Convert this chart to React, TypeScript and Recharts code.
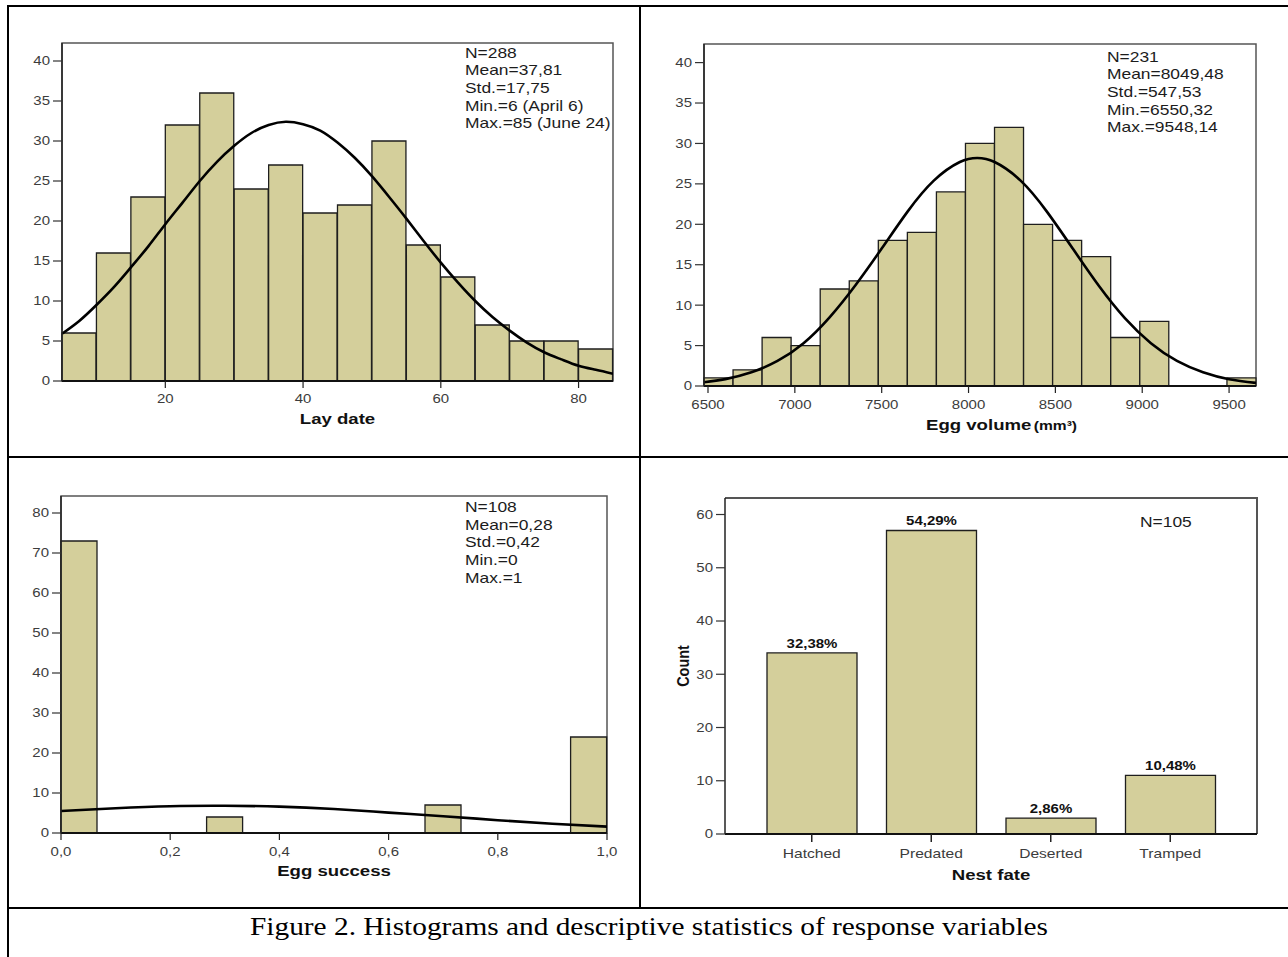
import React from "react";
import { Bar, BarChart, ComposedChart, LabelList, Line, ReferenceArea, XAxis, YAxis } from "recharts";

const FONT = '"Liberation Sans", Arial, sans-serif';
const BAR_FILL = "#d4cf9b";
const BAR_STROKE = "#1e1e1e";
const FRAME = "#555";
const SX = 1.2; // the scanned figure is stretched sideways, so is its text

// Lay date (bins of 5 days, 5..85)
const layBins = [5, 10, 15, 20, 25, 30, 35, 40, 45, 50, 55, 60, 65, 70, 75, 80];
const layCounts = [6, 16, 23, 32, 36, 24, 27, 21, 22, 30, 17, 13, 7, 5, 5, 4];
const layCurveX = [5, 7.5, 10, 12.5, 15, 17.5, 20, 22.5, 25, 27.5, 30, 32.5, 35, 37.5, 40, 42.5, 45, 47.5, 50, 52.5, 55, 57.5, 60, 62.5, 65, 67.5, 70, 72.5, 75, 77.5, 80, 82.5, 85];
const layCurveY = [5.9, 7.5, 9.5, 11.7, 14.2, 16.8, 19.6, 22.3, 25.0, 27.4, 29.4, 31.0, 32.0, 32.4, 32.1, 31.3, 29.8, 27.9, 25.6, 23.0, 20.3, 17.5, 14.8, 12.3, 10.0, 8.0, 6.3, 4.8, 3.6, 2.7, 1.9, 1.4, 0.9];
const layTicks = [20, 40, 60, 80];
const layStats = ["N=288", "Mean=37,81", "Std.=17,75", "Min.=6 (April 6)", "Max.=85 (June 24)"];

// Egg volume (mm3)
const volBins = [6477, 6644, 6812, 6979, 7146, 7314, 7481, 7648, 7815, 7983, 8150, 8317, 8485, 8652, 8819, 8987, 9154, 9321, 9488];
const volCounts = [1, 2, 6, 5, 12, 13, 18, 19, 24, 30, 32, 20, 18, 16, 6, 8, 0, 0, 1];
const volCurveX = [6477, 6600, 6750, 6900, 7050, 7200, 7350, 7500, 7650, 7800, 7950, 8050, 8150, 8300, 8450, 8600, 8750, 8900, 9050, 9200, 9350, 9500, 9655];
const volCurveY = [0.46, 0.85, 1.7, 3.1, 5.3, 8.5, 12.5, 17.0, 21.6, 25.4, 27.7, 28.2, 27.7, 25.4, 21.6, 17.0, 12.4, 8.4, 5.3, 3.1, 1.7, 0.84, 0.38];
const volTicks = [6500, 7000, 7500, 8000, 8500, 9000, 9500];
const volStats = ["N=231", "Mean=8049,48", "Std.=547,53", "Min.=6550,32", "Max.=9548,14"];

// Egg success (15 bins over 0..1)
const sucBins = ["0,00", "0,07", "0,13", "0,20", "0,27", "0,33", "0,40", "0,47", "0,53", "0,60", "0,67", "0,73", "0,80", "0,87", "0,93"];
const sucCounts = [73, 0, 0, 0, 4, 0, 0, 0, 0, 0, 7, 0, 0, 0, 24];
const sucCurveX = [0, 0.1, 0.2, 0.3, 0.4, 0.5, 0.6, 0.7, 0.8, 0.9, 1.0];
const sucCurveY = [5.5, 6.2, 6.7, 6.8, 6.6, 6.0, 5.1, 4.2, 3.2, 2.3, 1.6];
const sucTicks = [0, 0.2, 0.4, 0.6, 0.8, 1.0];
const sucStats = ["N=108", "Mean=0,28", "Std.=0,42", "Min.=0", "Max.=1"];

// Nest fate
const fates = ["Hatched", "Predated", "Deserted", "Tramped"];
const fateCounts = [34, 57, 3, 11];
const fatePcts = ["32,38%", "54,29%", "2,86%", "10,48%"];
const fateTicks = [0, 10, 20, 30, 40, 50, 60];

// text stretched sideways about its anchor point
function SText({ x, y, anchor = "start", size, bold, fill = "#222", dy, children }: {
  x: number; y: number; anchor?: "start" | "middle" | "end"; size: number; bold?: boolean; fill?: string; dy?: string; children: React.ReactNode;
}) {
  return (
    <g transform={`translate(${x},${y}) scale(${SX},1)`}>
      <text x={0} y={0} dy={dy} textAnchor={anchor} fontFamily={FONT} fontSize={size} fontWeight={bold ? "bold" : "normal"} fill={fill}>{children}</text>
    </g>
  );
}

const xTick = (fmt?: (v: any) => string, size = 12.5) => (props: any) => (
  <SText x={props.x} y={props.y} anchor="middle" dy="0.71em" size={size} fill="#3c3c3c">
    {fmt ? fmt(props.payload.value) : props.payload.value}
  </SText>
);
const yTick = (props: any) => (
  <SText x={props.x} y={props.y} anchor="end" dy="0.355em" size={12.5} fill="#3c3c3c">{props.payload.value}</SText>
);
const axisTitle = (text: React.ReactNode, dyBase: number) => ({
  content: (props: any) => {
    const vb = props.viewBox || {};
    return <SText x={vb.x + vb.width / 2} y={vb.y + dyBase} anchor="middle" size={15.5} bold fill="#111">{text}</SText>;
  },
});

function Stats({ x, y, lines }: { x: number; y: number; lines: string[] }) {
  return (
    <div style={{ position: "absolute", left: x, top: y, fontFamily: FONT, fontSize: 14.5, lineHeight: "17.7px", color: "#1c1c1c",
      whiteSpace: "nowrap", transform: `scaleX(${SX})`, transformOrigin: "0 0" }}>
      {lines.map((l) => <div key={l}>{l}</div>)}
    </div>
  );
}

type HistProps = {
  left: number; top: number; width: number; height: number;
  margin: { top: number; right: number; bottom: number; left: number };
  bins: (number | string)[]; counts: number[]; curveX: number[]; curveY: number[];
  domain: [number, number]; ticks: number[]; yMax: number; yStep: number; tickMargin: number;
  title: any; fmt?: (v: number) => string;
};

function Histogram(p: HistProps) {
  const data = p.bins.map((b, i) => ({ bin: String(b), count: p.counts[i] }));
  const curve = p.curveX.map((x, i) => ({ x, y: p.curveY[i] }));
  const yTicks: number[] = [];
  for (let v = 0; v <= p.yMax; v += p.yStep) yTicks.push(v);
  return (
    <div style={{ position: "absolute", left: p.left, top: p.top }}>
      <ComposedChart width={p.width} height={p.height} data={data} margin={p.margin} barCategoryGap={0} barGap={0}>
        <XAxis xAxisId="bins" dataKey="bin" hide height={0} />
        <XAxis xAxisId="val" type="number" dataKey="x" domain={p.domain} ticks={p.ticks} allowDataOverflow interval={0}
          height={50} tickSize={7} tickMargin={p.tickMargin}
          axisLine={{ stroke: "#111", strokeWidth: 2 }} tickLine={{ stroke: "#222", strokeWidth: 1.2 }} tick={xTick(p.fmt)}
          label={p.title} />
        <YAxis domain={[0, p.yMax]} ticks={yTicks} allowDataOverflow interval={0} width={40}
          tickSize={9} tickMargin={3} axisLine={{ stroke: "#222", strokeWidth: 1.5 }} tickLine={{ stroke: "#333", strokeWidth: 1.2 }} tick={yTick} />
        <Bar xAxisId="bins" dataKey="count" fill={BAR_FILL} stroke={BAR_STROKE} strokeWidth={1.3} isAnimationActive={false} />
        <Line xAxisId="val" data={curve} dataKey="y" type="natural" stroke="#000" strokeWidth={2.6} dot={false} isAnimationActive={false} />
        <ReferenceArea xAxisId="val" y1={0} y2={p.yMax} fill="none" stroke={FRAME} strokeWidth={1.5} ifOverflow="visible" />
      </ComposedChart>
    </div>
  );
}

// nest-fate chart box, kept in one place so the frame follows the margins
const NEST = { left: 641, top: 458, width: 647, height: 449, yWidth: 60, xHeight: 50 };
const NEST_MARGIN = { top: 40, right: 31, bottom: 23, left: 24 };

export default function App() {
  const line = (l: number, t: number, w: number, h: number, c = "#000") => (
    <div style={{ position: "absolute", left: l, top: t, width: w, height: h, background: c }} />
  );
  const volTitle = {
    content: (props: any) => {
      const vb = props.viewBox || {};
      const x0 = vb.x + vb.width / 2 - 54;
      return (
        <g transform={`translate(${x0},${vb.y + 43.8}) scale(${SX},1)`}>
          <text x={0} y={0} fontFamily={FONT} fill="#111" fontWeight="bold">
            <tspan fontSize={15.5}>Egg volume</tspan>
            <tspan fontSize={13} dx={2}>(mm³)</tspan>
          </text>
        </g>
      );
    },
  };
  const countTitle = {
    content: (props: any) => {
      const vb = props.viewBox || {};
      const cx = vb.x + 18;
      const cy = vb.y + vb.height / 2;
      return (
        <g transform={`translate(${cx},${cy}) scale(${SX},1) rotate(-90)`}>
          <text x={0} y={0} dy="0.36em" textAnchor="middle" fontFamily={FONT} fontSize={14.4} fontWeight="bold" fill="#111">Count</text>
        </g>
      );
    },
  };
  const pctLabel = (props: any) => (
    <SText x={props.x + props.width / 2} y={props.y - 5} anchor="middle" size={12.5} bold fill="#111">{props.value}</SText>
  );
  const nestData = fates.map((f, i) => ({ fate: f, count: fateCounts[i], pct: fatePcts[i] }));
  const pl = NEST.left + NEST_MARGIN.left + NEST.yWidth;
  const pr = NEST.left + NEST.width - NEST_MARGIN.right;
  const pt = NEST.top + NEST_MARGIN.top;
  const pb = NEST.top + NEST.height - NEST_MARGIN.bottom - NEST.xHeight;

  return (
    <div style={{ position: "absolute", left: 0, top: 0, width: 1288, height: 957, background: "#fff", overflow: "hidden" }}>
      <Histogram left={9} top={7} width={630} height={449} margin={{ top: 36, right: 26, bottom: 25, left: 13 }}
        bins={layBins} counts={layCounts} curveX={layCurveX} curveY={layCurveY} domain={[5, 85]} ticks={layTicks}
        yMax={42.25} yStep={5} tickMargin={6} title={axisTitle("Lay date", 42.6)} />
      <Histogram left={641} top={7} width={647} height={449} margin={{ top: 37, right: 32, bottom: 20, left: 23 }}
        bins={volBins} counts={volCounts} curveX={volCurveX} curveY={volCurveY} domain={[6477, 9655]} ticks={volTicks}
        yMax={42.3} yStep={5} tickMargin={7} title={volTitle} />
      <Histogram left={9} top={458} width={630} height={449} margin={{ top: 38, right: 32, bottom: 24, left: 12 }}
        bins={sucBins} counts={sucCounts} curveX={sucCurveX} curveY={sucCurveY} domain={[0, 1]} ticks={sucTicks}
        yMax={84.25} yStep={10} tickMargin={7} title={axisTitle("Egg success", 42.5)}
        fmt={(v) => v.toFixed(1).replace(".", ",")} />

      {/* top and right edges of the nest-fate plot frame */}
      {line(pl, pt - 0.75, pr - pl + 0.75, 1.5, FRAME)}
      {line(pr - 0.75, pt - 0.75, 1.5, pb - pt + 0.75, FRAME)}

      <div style={{ position: "absolute", left: NEST.left, top: NEST.top }}>
        <BarChart width={NEST.width} height={NEST.height} data={nestData} margin={NEST_MARGIN} barCategoryGap={0}>
          <XAxis dataKey="fate" padding={{ left: 27, right: 27 }} interval={0} height={NEST.xHeight} tickSize={8} tickMargin={7}
            axisLine={{ stroke: "#111", strokeWidth: 2 }} tickLine={{ stroke: "#222", strokeWidth: 1.5 }} tick={xTick(undefined, 13)}
            label={axisTitle("Nest fate", 45.5)} />
          <YAxis domain={[0, 63.1]} ticks={fateTicks} allowDataOverflow interval={0} width={NEST.yWidth} tickSize={9} tickMargin={3}
            axisLine={{ stroke: "#222", strokeWidth: 1.5 }} tickLine={{ stroke: "#333", strokeWidth: 1.2 }} tick={yTick}
            label={countTitle} />
          <Bar dataKey="count" barSize={90} fill={BAR_FILL} stroke={BAR_STROKE} strokeWidth={1.3} isAnimationActive={false}>
            <LabelList dataKey="pct" content={pctLabel} />
          </Bar>
        </BarChart>
      </div>

      <Stats x={465} y={44.5} lines={layStats} />
      <Stats x={1107} y={48.5} lines={volStats} />
      <Stats x={465} y={498.8} lines={sucStats} />
      <Stats x={1140} y={513.5} lines={["N=105"]} />

      {line(7, 5, 1281, 2)}
      {line(7, 5, 2, 952)}
      {line(639, 5, 2, 904)}
      {line(7, 456, 1281, 2)}
      {line(7, 907, 1281, 2)}

      <svg style={{ position: "absolute", left: 0, top: 909 }} width={1288} height={48}>
        <text x={250} y={26} textLength={798} lengthAdjust="spacingAndGlyphs" fontFamily='"Liberation Serif", "Times New Roman", serif'
          fontSize={25} fill="#000">Figure 2. Histograms and descriptive statistics of response variables</text>
      </svg>
    </div>
  );
}
